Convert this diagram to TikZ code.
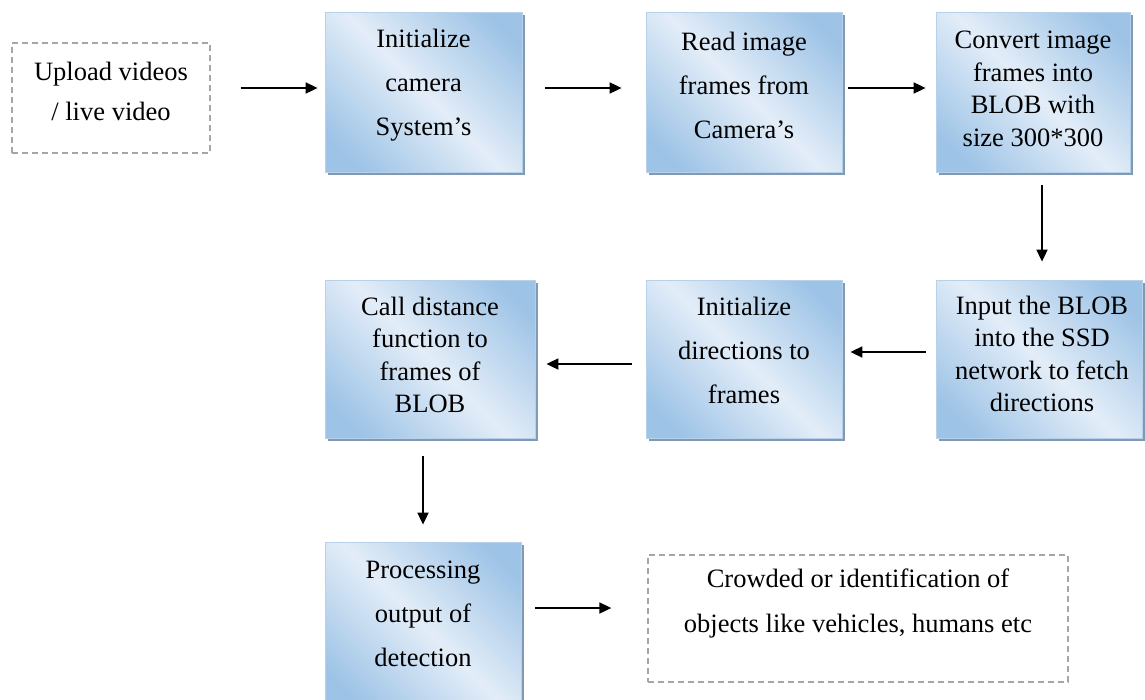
\documentclass[tikz,border=0pt]{standalone}
\usepackage{fontspec}
\setmainfont{Liberation Serif}
\usetikzlibrary{arrows.meta,shadows,calc}
\definecolor{bdark}{HTML}{9DC3E6}
\definecolor{blight}{HTML}{E3EDF8}
\definecolor{bedge}{HTML}{B7D1EB}
\definecolor{shcol}{HTML}{8199B3}
\definecolor{dgray}{HTML}{A6A6A6}
\pgfdeclarehorizontalshading{blueband}{100bp}{color(0bp)=(bdark); color(22bp)=(bdark); color(50bp)=(blight); color(78bp)=(bdark); color(100bp)=(bdark)}
\tikzset{
  box/.style={draw=bedge, line width=0.8pt, shading=blueband, shading angle=45,
    drop shadow={shadow xshift=3pt, shadow yshift=-3pt, fill=shcol, opacity=1},
    inner sep=0pt},
  dbox/.style={draw=dgray, line width=1.3pt, dash pattern=on 6pt off 4pt, fill=white, inner sep=0pt},
  arr/.style={-{Triangle[length=12pt,width=11pt]}, line width=1.8pt, black},
  txt/.style={align=center, font=\fontsize{26.5}{44}\selectfont, inner sep=0pt},
  txtf/.style={align=center, font=\fontsize{26.5}{32.5}\selectfont, inner sep=0pt}
}
\begin{document}
\begin{tikzpicture}[x=1pt,y=-1pt]
\fill[white] (0,0) rectangle (1145,699);
\useasboundingbox (0,0) rectangle (1145,699);
% boxes
\node[dbox, minimum width=198pt, minimum height=110pt] (up) at (111,98) {};
\node[box, minimum width=197pt, minimum height=160pt] (cam) at (423.5,92) {};
\node[box, minimum width=196pt, minimum height=160pt] (read) at (744,92) {};
\node[box, minimum width=194pt, minimum height=160pt] (conv) at (1033,92) {};
\node[box, minimum width=206pt, minimum height=158pt] (inp) at (1039,359) {};
\node[box, minimum width=196pt, minimum height=158pt] (dirs) at (744,359) {};
\node[box, minimum width=210pt, minimum height=158pt] (call) at (430,359) {};
\node[box, minimum width=196pt, minimum height=166pt] (proc) at (423,625) {};
\node[dbox, minimum width=420pt, minimum height=127pt] (crowd) at (858,618.5) {};
% texts
\node[txt, font=\fontsize{26.5}{40}\selectfont] (tup) at (111,91) {Upload videos\\/ live video};
\node[txt] (tcam) at (423.5,85) {Initialize\\camera\\System’s};
\node[txt] (tread) at (744,85) {Read image\\frames from\\Camera’s};
\node[txtf] (tconv) at (1033,89) {Convert image\\frames into\\BLOB with\\size 300*300};
\node[txtf] (tinp) at (1042,354) {Input the BLOB\\into the SSD\\network to fetch\\directions};
\node[txt] (tdirs) at (744,350) {Initialize\\directions to\\frames};
\node[txtf] (tcall) at (430,355) {Call distance\\function to\\frames of\\BLOB};
\node[txt] (tproc) at (423,614) {Processing\\output of\\detection};
\node[txt, font=\fontsize{26.5}{45}\selectfont] (tcrowd) at (858,603) {Crowded or identification of\\objects like vehicles, humans etc};
% helper rows
\coordinate (r1) at (0,88);
\coordinate (r2) at (0,352);
\coordinate (r3) at (0,364);
\coordinate (r4) at (0,608);
\coordinate (c1) at (1042,0);
\coordinate (c2) at (423,0);
% arrows
\draw[arr, shorten <=30pt, shorten >=7pt] (up.east |- r1) -- (cam.west |- r1);
\draw[arr, shorten <=23pt, shorten >=24pt] (cam.east |- r1) -- (read.west |- r1);
\draw[arr, shorten <=6pt, shorten >=10pt] (read.east |- r1) -- (conv.west |- r1);
\draw[arr, shorten <=13pt, shorten >=18pt] (conv.south -| c1) -- (inp.north -| c1);
\draw[arr, shorten <=10pt, shorten >=8pt] (inp.west |- r2) -- (dirs.east |- r2);
\draw[arr, shorten <=14pt, shorten >=11pt] (dirs.west |- r3) -- (call.east |- r3);
\draw[arr, shorten <=18pt, shorten >=17pt] (call.south -| c2) -- (proc.north -| c2);
\draw[arr, shorten <=14pt, shorten >=36pt] (proc.east |- r4) -- (crowd.west |- r4);
\end{tikzpicture}
\end{document}
